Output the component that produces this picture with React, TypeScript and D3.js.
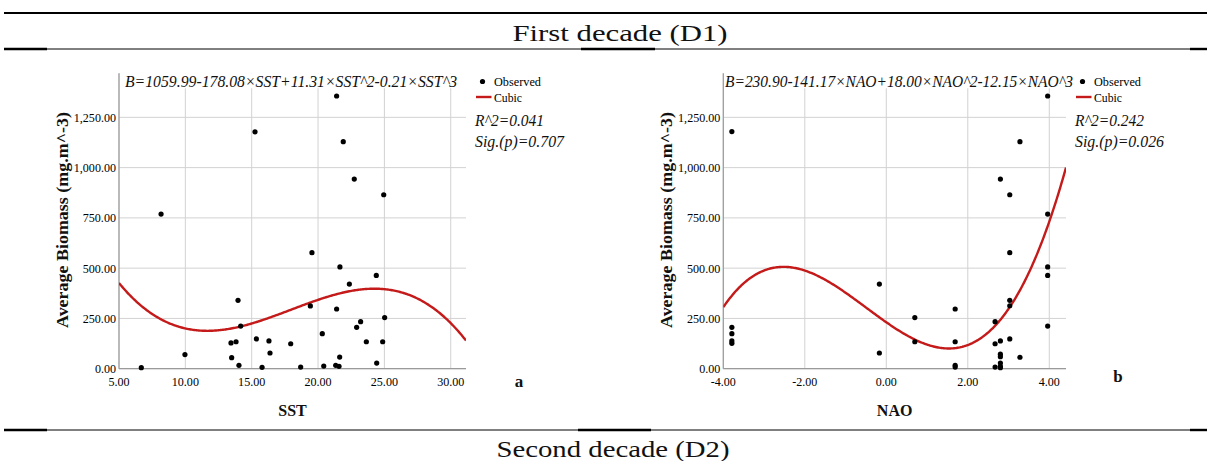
import React from "react";
import * as d3 from "d3";

// Observations: sea surface temperature vs. average biomass (first decade)
const SST = [6.68, 8.17, 9.97, 13.44, 13.49, 13.82, 13.97, 14.04, 14.17, 15.25, 15.35, 15.78, 16.3, 16.38, 17.94, 18.69, 19.42, 19.54, 20.32, 20.43, 21.33, 21.4, 21.4, 21.58, 21.63, 21.65, 21.9, 22.36, 22.73, 22.91, 23.21, 23.64, 24.39, 24.42, 24.87, 24.95, 25.02];
const BIOMASS_SST = [5, 769, 70, 128, 55, 134, 340, 17, 212, 1178, 148, 7, 138, 78, 124, 8, 312, 577, 174, 13, 17, 297, 1356, 12, 58, 506, 1129, 421, 943, 206, 234, 134, 464, 28, 134, 865, 254];

// Observations: NAO index vs. average biomass (first decade)
const NAO = [-3.79, -3.79, -3.79, -3.79, -3.79, -0.17, -0.17, 0.7, 0.7, 1.69, 1.69, 1.69, 1.69, 2.67, 2.67, 2.67, 2.8, 2.8, 2.8, 2.8, 2.8, 2.8, 2.8, 3.03, 3.03, 3.03, 3.03, 3.03, 3.28, 3.28, 3.96, 3.96, 3.96, 3.96, 3.96];
const BIOMASS_NAO = [1179, 206, 174, 138, 126, 421, 78, 254, 134, 297, 134, 17, 8, 234, 124, 8, 943, 138, 72, 60, 28, 12, 5, 865, 577, 340, 313, 148, 1129, 57, 1356, 769, 506, 464, 212];

// Cubic fit coefficients (constant, x, x^2, x^3)
const SST_COEF = [1059.99, -178.08, 11.31, -0.21];
const NAO_COEF = [230.9, -141.17, 18.0, 12.15];

const Y_TICKS = [0, 250, 500, 750, 1000, 1250];
const SST_TICKS = [5, 10, 15, 20, 25, 30];
const NAO_TICKS = [-4, -2, 0, 2, 4];

const SST_EQUATION = "B=1059.99-178.08×SST+11.31×SST^2-0.21×SST^3";
const NAO_EQUATION = "B=230.90-141.17×NAO+18.00×NAO^2-12.15×NAO^3";

const SERIF = "'Liberation Serif', 'Times New Roman', Times, Tinos, 'Nimbus Roman', 'Nimbus Roman No9 L', FreeSerif, serif";
const fmtY = d3.format(",.2f");
// plain hyphen for negatives, as in the statistics package output
const fmtX = (v: number) => d3.format(".2f")(v).replace("\u2212", "-");

// approximate set width of a numeric label in a Times-like face
const numWidth = (s: string) =>
  Array.from(s).reduce((w, c) => w + (/[0-9]/.test(c) ? 6.1 : c === "-" ? 3.9 : 2.8), 0);

type PanelProps = {
  id: string;
  left: number;
  right: number;
  xDomain: [number, number];
  xTicks: number[];
  xs: number[];
  ys: number[];
  coef: number[];
  equation: string;
  eqX: number;
  eqLen: number;
  r2: string;
  r2Len: number;
  sig: string;
  sigLen: number;
  xTitle: string;
  letter: string;
  letterX: number;
  letterY: number;
};

const TOP = 73.3;
const BOTTOM = 368.7;
const txt = (extra: React.CSSProperties = {}): React.CSSProperties => ({ fontFamily: SERIF, ...extra });

function Panel(p: PanelProps) {
  const x = d3.scaleLinear().domain(p.xDomain).range([p.left, p.right]);
  const y = d3.scaleLinear().domain([0, 1469]).range([BOTTOM, TOP]);
  const f = (v: number) => p.coef[0] + p.coef[1] * v + p.coef[2] * v * v + p.coef[3] * v * v * v;
  const samples = d3.range(0, 301).map((i) => p.xDomain[0] + ((p.xDomain[1] - p.xDomain[0]) * i) / 300);
  const line = d3
    .line<number>()
    .x((v) => x(v))
    .y((v) => y(f(v)));
  const yTitleX = p.left - 56.5;
  const midY = 220;
  return (
    <g>
      <defs>
        <clipPath id={`clip-${p.id}`}>
          <rect x={p.left} y={TOP} width={p.right - p.left} height={BOTTOM - TOP} />
        </clipPath>
      </defs>
      {/* grid */}
      {Y_TICKS.map((t) => (
        <line key={`gy${t}`} x1={p.left} x2={p.right} y1={y(t)} y2={y(t)} stroke="#d2d2d2" strokeWidth={1} />
      ))}
      {p.xTicks.map((t) => (
        <line key={`gx${t}`} x1={x(t)} x2={x(t)} y1={TOP} y2={BOTTOM} stroke="#d2d2d2" strokeWidth={1} />
      ))}
      {/* axes */}
      <line x1={p.left} x2={p.left} y1={TOP} y2={BOTTOM} stroke="#9a9a9a" strokeWidth={1.2} />
      <line x1={p.left} x2={p.right} y1={BOTTOM} y2={BOTTOM} stroke="#9a9a9a" strokeWidth={1.2} />
      {/* fitted cubic */}
      <path
        d={line(samples) || ""}
        fill="none"
        stroke="#c41a1a"
        strokeWidth={2.4}
        clipPath={`url(#clip-${p.id})`}
      />
      {/* observed points */}
      {p.xs.map((v, i) => (
        <circle key={i} cx={x(v)} cy={y(p.ys[i])} r={2.6} fill="#000" />
      ))}
      {/* tick labels */}
      {Y_TICKS.map((t) => {
        const s = fmtY(t);
        return (
          <text
            key={`ly${t}`}
            x={p.left - 3}
            y={y(t)}
            dy="0.35em"
            textAnchor="end"
            style={txt({ fontSize: 13 })}
            textLength={numWidth(s)}
            lengthAdjust="spacingAndGlyphs"
            fill="#000"
          >
            {s}
          </text>
        );
      })}
      {p.xTicks.map((t) => {
        const s = fmtX(t);
        return (
          <text
            key={`lx${t}`}
            x={x(t)}
            y={BOTTOM + 13}
            dy="0.35em"
            textAnchor="middle"
            style={txt({ fontSize: 13 })}
            textLength={numWidth(s)}
            lengthAdjust="spacingAndGlyphs"
            fill="#000"
          >
            {s}
          </text>
        );
      })}
      {/* axis titles */}
      <text
        transform={`translate(${yTitleX},${midY}) rotate(-90)`}
        dy="0.35em"
        textAnchor="middle"
        style={txt({ fontSize: 16, fontWeight: "bold" })}
        textLength={216}
        lengthAdjust="spacingAndGlyphs"
        fill="#111"
      >
        Average Biomass (mg.m^-3)
      </text>
      <text
        x={(p.left + p.right) / 2}
        y={410}
        dy="0.35em"
        textAnchor="middle"
        style={txt({ fontSize: 16, fontWeight: "bold" })}
        fill="#111"
      >
        {p.xTitle}
      </text>
      {/* equation */}
      <rect x={p.eqX - 1} y={TOP} width={p.eqLen + 2} height={15} fill="#fff" />
      <text
        x={p.eqX}
        y={87}
        style={txt({ fontSize: 16, fontStyle: "italic" })}
        textLength={p.eqLen}
        lengthAdjust="spacingAndGlyphs"
        fill="#111"
      >
        {p.equation}
      </text>
      {/* legend */}
      <circle cx={p.right + 16.5} cy={81.5} r={2.6} fill="#000" />
      <text
        x={p.right + 28}
        y={81.5}
        dy="0.35em"
        style={txt({ fontSize: 13.5 })}
        textLength={47}
        lengthAdjust="spacingAndGlyphs"
        fill="#000"
      >
        Observed
      </text>
      <line x1={p.right + 10} x2={p.right + 25.5} y1={97} y2={97} stroke="#c41a1a" strokeWidth={2.4} />
      <text
        x={p.right + 28}
        y={97}
        dy="0.35em"
        style={txt({ fontSize: 13.5 })}
        textLength={28}
        lengthAdjust="spacingAndGlyphs"
        fill="#000"
      >
        Cubic
      </text>
      <text
        x={p.right + 9}
        y={120}
        dy="0.35em"
        style={txt({ fontSize: 16.5, fontStyle: "italic" })}
        textLength={p.r2Len}
        lengthAdjust="spacingAndGlyphs"
        fill="#111"
      >
        {p.r2}
      </text>
      <text
        x={p.right + 9}
        y={141}
        dy="0.35em"
        style={txt({ fontSize: 16.5, fontStyle: "italic" })}
        textLength={p.sigLen}
        lengthAdjust="spacingAndGlyphs"
        fill="#111"
      >
        {p.sig}
      </text>
      <text
        x={p.letterX}
        y={p.letterY}
        dy="0.35em"
        textAnchor="middle"
        style={txt({ fontSize: 17, fontWeight: "bold" })}
        fill="#111"
      >
        {p.letter}
      </text>
    </g>
  );
}

export default function App() {
  const W = 1207;
  const H = 461;
  return (
    <svg
      width={W}
      height={H}
      viewBox={`0 0 ${W} ${H}`}
      style={{ position: "absolute", left: 0, top: 0, background: "#fff" }}
    >
      <rect x={0} y={0} width={W} height={H} fill="#fff" />
      {/* table rules */}
      <line x1={4} x2={W} y1={13} y2={13} stroke="#000" strokeWidth={2} />
      <line x1={4} x2={W} y1={49} y2={49} stroke="#000" strokeWidth={1} />
      <line x1={4} x2={47} y1={49} y2={49} stroke="#000" strokeWidth={2.4} />
      <line x1={581} x2={655} y1={49} y2={49} stroke="#000" strokeWidth={2.4} />
      <line x1={1190} x2={W} y1={49} y2={49} stroke="#000" strokeWidth={2.4} />
      <line x1={4} x2={W} y1={430} y2={430} stroke="#000" strokeWidth={1} />
      <line x1={4} x2={47} y1={430} y2={430} stroke="#000" strokeWidth={2.4} />
      <line x1={578} x2={651} y1={430} y2={430} stroke="#000" strokeWidth={2.4} />
      <line x1={1190} x2={W} y1={430} y2={430} stroke="#000" strokeWidth={2.4} />
      <text
        x={620}
        y={41}
        textAnchor="middle"
        style={txt({ fontSize: 24 })}
        textLength={215}
        lengthAdjust="spacingAndGlyphs"
        fill="#111"
      >
        First decade (D1)
      </text>
      <text
        x={613}
        y={457}
        textAnchor="middle"
        style={txt({ fontSize: 24 })}
        textLength={233}
        lengthAdjust="spacingAndGlyphs"
        fill="#111"
      >
        Second decade (D2)
      </text>

      <Panel
        id="a"
        left={119}
        right={466}
        xDomain={[5, 31.15]}
        xTicks={SST_TICKS}
        xs={SST}
        ys={BIOMASS_SST}
        coef={SST_COEF}
        equation={SST_EQUATION}
        eqX={125}
        eqLen={332}
        r2="R^2=0.041"
        r2Len={69}
        sig="Sig.(p)=0.707"
        sigLen={89}
        xTitle="SST"
        letter="a"
        letterX={519}
        letterY={381}
      />
      <Panel
        id="b"
        left={723.3}
        right={1066}
        xDomain={[-4, 4.41]}
        xTicks={NAO_TICKS}
        xs={NAO}
        ys={BIOMASS_NAO}
        coef={NAO_COEF}
        equation={NAO_EQUATION}
        eqX={725}
        eqLen={348}
        r2="R^2=0.242"
        r2Len={69}
        sig="Sig.(p)=0.026"
        sigLen={89}
        xTitle="NAO"
        letter="b"
        letterX={1118}
        letterY={376}
      />
    </svg>
  );
}
